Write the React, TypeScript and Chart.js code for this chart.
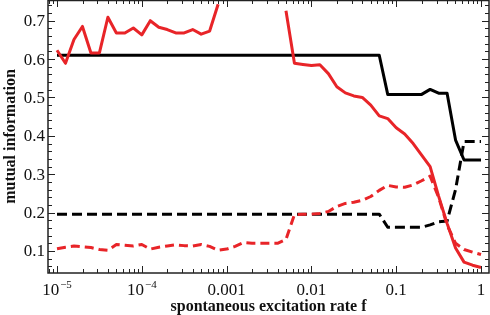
import React, { useEffect, useRef } from "react";
import { Chart, registerables } from "chart.js";

Chart.register(...registerables);

// spontaneous excitation rate f (sampling grid, 10 points per decade)
const F = [
  1e-5, 1.259e-5, 1.585e-5, 1.995e-5, 2.512e-5, 3.162e-5, 3.981e-5, 5.012e-5, 6.31e-5, 7.943e-5,
  1e-4, 1.259e-4, 1.585e-4, 1.995e-4, 2.512e-4, 3.162e-4, 3.981e-4, 5.012e-4, 6.31e-4, 7.943e-4,
  1e-3, 1.259e-3, 1.585e-3, 1.995e-3, 2.512e-3, 3.162e-3, 3.981e-3, 5.012e-3, 6.31e-3, 7.943e-3,
  1e-2, 1.259e-2, 1.585e-2, 1.995e-2, 2.512e-2, 3.162e-2, 3.981e-2, 5.012e-2, 6.31e-2, 7.943e-2,
  0.1, 0.1259, 0.1585, 0.1995, 0.2512, 0.3162, 0.3981, 0.5012, 0.631, 0.7943,
  1,
];

const RED_SOLID = [
  0.623, 0.589, 0.651, 0.685, 0.616, 0.616, 0.709, 0.668, 0.668, 0.681,
  0.663, 0.7, 0.683, 0.677, 0.668, 0.668, 0.677, 0.665, 0.673, 0.743,
  null, null, null, null, null, null, null, 0.726, 0.589, 0.586,
  0.583, 0.585, 0.562, 0.528, 0.512, 0.504, 0.5, 0.48, 0.452, 0.445,
  0.421, 0.405, 0.38, 0.35, 0.32, 0.243, 0.172, 0.108, 0.071, 0.063,
  0.057,
];

const RED_DASHED = [
  0.106, 0.11, 0.113, 0.111, 0.109, 0.104, 0.102, 0.117, 0.115, 0.113,
  0.117, 0.105, 0.11, 0.113, 0.116, 0.114, 0.113, 0.117, 0.112, 0.102,
  0.105, 0.112, 0.122, 0.12, 0.12, 0.12, 0.12, 0.13, 0.195, 0.196,
  0.196, 0.198, 0.203, 0.216, 0.224, 0.227, 0.232, 0.242, 0.258, 0.271,
  0.267, 0.266, 0.272, 0.283, 0.295, 0.24, 0.168, 0.12, 0.104, 0.097,
  0.091,
];

const BLACK_SOLID = [
  0.61, 0.61, 0.61, 0.61, 0.61, 0.61, 0.61, 0.61, 0.61, 0.61,
  0.61, 0.61, 0.61, 0.61, 0.61, 0.61, 0.61, 0.61, 0.61, 0.61,
  0.61, 0.61, 0.61, 0.61, 0.61, 0.61, 0.61, 0.61, 0.61, 0.61,
  0.61, 0.61, 0.61, 0.61, 0.61, 0.61, 0.61, 0.61, 0.61, 0.508,
  0.508, 0.508, 0.508, 0.508, 0.521, 0.511, 0.511, 0.389, 0.337, 0.337,
  0.337,
];

const BLACK_DASHED = [
  0.196, 0.196, 0.196, 0.196, 0.196, 0.196, 0.196, 0.196, 0.196, 0.196,
  0.196, 0.196, 0.196, 0.196, 0.196, 0.196, 0.196, 0.196, 0.196, 0.196,
  0.196, 0.196, 0.196, 0.196, 0.196, 0.196, 0.196, 0.196, 0.196, 0.196,
  0.196, 0.196, 0.196, 0.196, 0.196, 0.196, 0.196, 0.196, 0.196, 0.162,
  0.162, 0.162, 0.162, 0.162, 0.168, 0.176, 0.178, 0.26, 0.385, 0.385,
  0.385,
];

const X_TICK_VALUES = [1e-5, 1e-4, 1e-3, 0.01, 0.1, 1];
const X_TICK_LABELS = ["10^−5", "10^−4", "0.001", "0.01", "0.1", "1"];
const Y_TICK_VALUES = [0.1, 0.2, 0.3, 0.4, 0.5, 0.6, 0.7];
const Y_TICK_LABELS = ["0.1", "0.2", "0.3", "0.4", "0.5", "0.6", "0.7"];
const X_TITLE = "spontaneous excitation rate f";
const Y_TITLE = "mutual information";

const X_MIN = 7.83e-6;
const X_MAX = 1.2425;
const Y_MIN = 0.0427;
const Y_MAX = 0.7539;

const RED = "rgb(232,36,40)";
const AXIS = "#222";
const SERIF = '"Liberation Serif", "Times New Roman", serif';

const framePlugin = {
  id: "frame",
  afterDraw(chart: any) {
    const { ctx, chartArea, scales } = chart;
    const { left, right, top, bottom } = chartArea;
    const xs = scales.x;
    const ys = scales.y;
    ctx.save();
    ctx.strokeStyle = AXIS;
    ctx.lineWidth = 1.5;
    ctx.strokeRect(left, top + 0.5, right - left, bottom - top - 0.5);

    // x ticks (inward, bottom and top)
    ctx.lineWidth = 1;
    for (let d = -6; d <= 0; d++) {
      for (let m = 1; m <= 9; m++) {
        const v = m * Math.pow(10, d);
        if (v < X_MIN || v > X_MAX) continue;
        const px = Math.round(xs.getPixelForValue(v)) + 0.5;
        const len = m === 1 ? 7 : 4;
        ctx.beginPath();
        ctx.moveTo(px, bottom);
        ctx.lineTo(px, bottom - len);
        ctx.moveTo(px, top);
        ctx.lineTo(px, top + len);
        ctx.stroke();
      }
    }
    // y ticks (inward, left and right)
    for (let i = 2; i <= 75; i += 2) {
      const v = i / 100;
      if (v < Y_MIN || v > Y_MAX) continue;
      const py = Math.round(ys.getPixelForValue(v)) + 0.5;
      const len = i % 10 === 0 ? 7 : 4;
      ctx.beginPath();
      ctx.moveTo(left, py);
      ctx.lineTo(left + len, py);
      ctx.moveTo(right, py);
      ctx.lineTo(right - len, py);
      ctx.stroke();
    }

    ctx.fillStyle = "#111";
    // y tick labels
    ctx.font = `17px ${SERIF}`;
    ctx.textAlign = "right";
    ctx.textBaseline = "middle";
    Y_TICK_VALUES.forEach((v, i) => {
      ctx.fillText(Y_TICK_LABELS[i], left - 3, ys.getPixelForValue(v) + 1);
    });

    // x tick labels
    X_TICK_VALUES.forEach((v, i) => {
      const px = xs.getPixelForValue(v);
      const lab = X_TICK_LABELS[i];
      const [base, exp] = lab.split("^");
      ctx.textBaseline = "alphabetic";
      ctx.textAlign = "left";
      ctx.font = `17px ${SERIF}`;
      const wb = ctx.measureText(base).width;
      let we = 0;
      if (exp) {
        ctx.font = `11px ${SERIF}`;
        we = ctx.measureText(exp).width + 1;
      }
      const x0 = px - (wb + we) / 2;
      const baseY = bottom + 22;
      ctx.font = `17px ${SERIF}`;
      ctx.fillText(base, x0, baseY);
      if (exp) {
        ctx.font = `11px ${SERIF}`;
        ctx.fillText(exp, x0 + wb + 1, baseY - 7);
      }
    });

    // titles
    ctx.font = `bold 16px ${SERIF}`;
    ctx.textAlign = "center";
    ctx.textBaseline = "alphabetic";
    ctx.fillText(X_TITLE, (left + right) / 2 + 0, bottom + 38);

    ctx.save();
    ctx.translate(15, (top + bottom) / 2);
    ctx.rotate(-Math.PI / 2);
    ctx.fillText(Y_TITLE, 0, 0);
    ctx.restore();

    ctx.restore();
  },
};

function toPoints(arr: (number | null)[]) {
  return F.map((f, i) => ({ x: f, y: arr[i] }));
}

export default function App() {
  const ref = useRef<HTMLCanvasElement | null>(null);
  useEffect(() => {
    if (!ref.current) return;
    const chart = new Chart(ref.current, {
      type: "line",
      data: {
        datasets: [
          {
            data: toPoints(RED_SOLID) as any,
            borderColor: RED,
            borderWidth: 3,
            spanGaps: false,
          },
          {
            data: toPoints(RED_DASHED) as any,
            borderColor: RED,
            borderWidth: 3,
            borderDash: [9, 5],
          },
          {
            data: toPoints(BLACK_SOLID) as any,
            borderColor: "#000",
            borderWidth: 3,
          },
          {
            data: toPoints(BLACK_DASHED) as any,
            borderColor: "#000",
            borderWidth: 3,
            borderDash: [10, 5],
          },
        ],
      },
      options: {
        responsive: false,
        maintainAspectRatio: false,
        animation: false,
        layout: { padding: { left: 48, right: 1, top: 0, bottom: 42 } },
        elements: {
          point: { radius: 0, hoverRadius: 0 },
          line: { tension: 0, fill: false, borderJoinStyle: "round", borderCapStyle: "butt" },
        },
        plugins: { legend: { display: false }, tooltip: { enabled: false } },
        scales: {
          x: { type: "logarithmic", min: X_MIN, max: X_MAX, display: false },
          y: { type: "linear", min: Y_MIN, max: Y_MAX, display: false },
        },
      },
      plugins: [framePlugin],
    });
    return () => chart.destroy();
  }, []);
  return (
    <div style={{ position: "fixed", left: 0, top: 0, width: 490, height: 315, background: "#fff" }}>
      <canvas ref={ref} width={490} height={315} style={{ display: "block" }} />
    </div>
  );
}
